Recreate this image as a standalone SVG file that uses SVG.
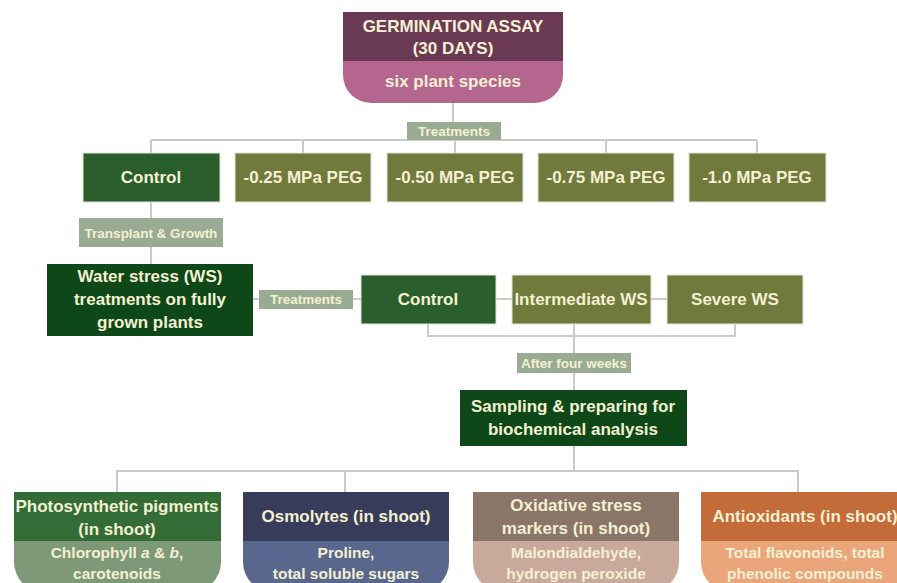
<svg xmlns="http://www.w3.org/2000/svg" width="897" height="583" viewBox="0 0 897 583">
<style>
text{font-family:"Liberation Sans",Arial,sans-serif;font-weight:bold;fill:#f4f0d2;text-anchor:middle;dominant-baseline:central}
.t16{font-size:17px}
.t15{font-size:17px}
.t14{font-size:15.5px}
.lbl{font-size:13.5px}
.conn{stroke:#c9ccc6;stroke-width:2;fill:none}
.ctl{fill:#2a5e2c;stroke:#dfe6d8;stroke-width:1}
.peg{fill:#6f7a3c;stroke:#dfe6d8;stroke-width:1}
.dk{fill:#0e4819}
.lb{fill:#99ac93}
</style>
<rect width="897" height="583" fill="#ffffff"/>
<g id="connectors">
<path class="conn" d="M453 103V140M151 140H757M151 140V153M303 140V153M455 140V153M606 140V153M757 140V153"/>
<path class="conn" d="M151 202V264"/>
<path class="conn" d="M253 299H361M496 299H512M651 299H667"/>
<path class="conn" d="M428 324V336H735V324M574 324V471"/>
<path class="conn" d="M117 492V471H798V492M345 471V492"/>
</g>
<g id="germination">
<path d="M343 61H563V75A28 28 0 0 1 535 103H371A28 28 0 0 1 343 75Z" fill="#b5668f"/>
<rect x="343" y="12" width="220" height="49" fill="#6a3a55"/>
<text class="t16" x="453" y="26">GERMINATION ASSAY</text>
<text class="t16" x="453" y="48">(30 DAYS)</text>
<text class="t16" x="453" y="81">six plant species</text>
</g>
<g id="lbl-treatments1"><rect class="lb" x="407" y="122" width="94" height="18"/><text class="lbl" x="454" y="131">Treatments</text></g>
<g id="control1"><rect class="ctl" x="83" y="153" width="137" height="49"/><text class="t16" x="151" y="177">Control</text></g>
<g id="peg025"><rect class="peg" x="235" y="153" width="136" height="49"/><text class="t16" x="303" y="177">-0.25 MPa PEG</text></g>
<g id="peg050"><rect class="peg" x="387" y="153" width="136" height="49"/><text class="t16" x="455" y="177">-0.50 MPa PEG</text></g>
<g id="peg075"><rect class="peg" x="538" y="153" width="136" height="49"/><text class="t16" x="606" y="177">-0.75 MPa PEG</text></g>
<g id="peg100"><rect class="peg" x="689" y="153" width="137" height="49"/><text class="t16" x="757" y="177">-1.0 MPa PEG</text></g>
<g id="lbl-transplant"><rect class="lb" x="79" y="218" width="144" height="29"/><text class="lbl" x="151" y="233">Transplant &amp; Growth</text></g>
<g id="ws"><rect class="dk" x="47" y="264" width="206" height="72"/>
<text class="t16" x="150" y="276">Water stress (WS)</text>
<text class="t16" x="150" y="299">treatments on fully</text>
<text class="t16" x="150" y="322">grown plants</text></g>
<g id="lbl-treatments2"><rect class="lb" x="259" y="290" width="94" height="19"/><text class="lbl" x="306" y="299">Treatments</text></g>
<g id="control2"><rect class="ctl" x="361" y="275" width="135" height="49"/><text class="t16" x="428" y="299">Control</text></g>
<g id="intermediate"><rect class="peg" x="512" y="275" width="139" height="49"/><text class="t16" x="581" y="299">Intermediate WS</text></g>
<g id="severe"><rect class="peg" x="667" y="275" width="136" height="49"/><text class="t16" x="735" y="299">Severe WS</text></g>
<g id="lbl-after"><rect class="lb" x="517" y="353" width="114" height="20"/><text class="lbl" x="574" y="363">After four weeks</text></g>
<g id="sampling"><rect class="dk" x="460" y="390" width="227" height="56"/>
<text class="t15" x="573" y="406">Sampling &amp; preparing for</text>
<text class="t15" x="573" y="429">biochemical analysis</text></g>
<g id="pigments">
<path d="M14 541H221V562A30 30 0 0 1 191 592H44A30 30 0 0 1 14 562Z" fill="#7d9977"/>
<rect x="14" y="492" width="207" height="49" fill="#336c36"/>
<text class="t15" x="117" y="506">Photosynthetic pigments</text>
<text class="t15" x="117" y="529">(in shoot)</text>
<text class="t14" x="117" y="552">Chlorophyll <tspan font-style="italic">a</tspan> &amp; <tspan font-style="italic">b</tspan>,</text>
<text class="t14" x="117" y="573">carotenoids</text>
</g>
<g id="osmolytes">
<path d="M243 541H449V562A30 30 0 0 1 419 592H273A30 30 0 0 1 243 562Z" fill="#59678e"/>
<rect x="243" y="492" width="206" height="49" fill="#363c59"/>
<text class="t15" x="346" y="516">Osmolytes (in shoot)</text>
<text class="t14" x="346" y="552">Proline,</text>
<text class="t14" x="346" y="573">total soluble sugars</text>
</g>
<g id="oxidative">
<path d="M473 541H679V562A30 30 0 0 1 649 592H503A30 30 0 0 1 473 562Z" fill="#c9a99b"/>
<rect x="473" y="492" width="206" height="49" fill="#8a7569"/>
<text class="t15" x="576" y="505">Oxidative stress</text>
<text class="t15" x="576" y="528">markers (in shoot)</text>
<text class="t14" x="576" y="552">Malondialdehyde,</text>
<text class="t14" x="576" y="573">hydrogen peroxide</text>
</g>
<g id="antioxidants">
<path d="M701 541H907V562A30 30 0 0 1 877 592H731A30 30 0 0 1 701 562Z" fill="#eaa57b"/>
<rect x="701" y="492" width="206" height="49" fill="#c36b39"/>
<text class="t15" x="805" y="516">Antioxidants (in shoot)</text>
<text class="t14" x="805" y="552">Total flavonoids, total</text>
<text class="t14" x="805" y="573">phenolic compounds</text>
</g>
</svg>
